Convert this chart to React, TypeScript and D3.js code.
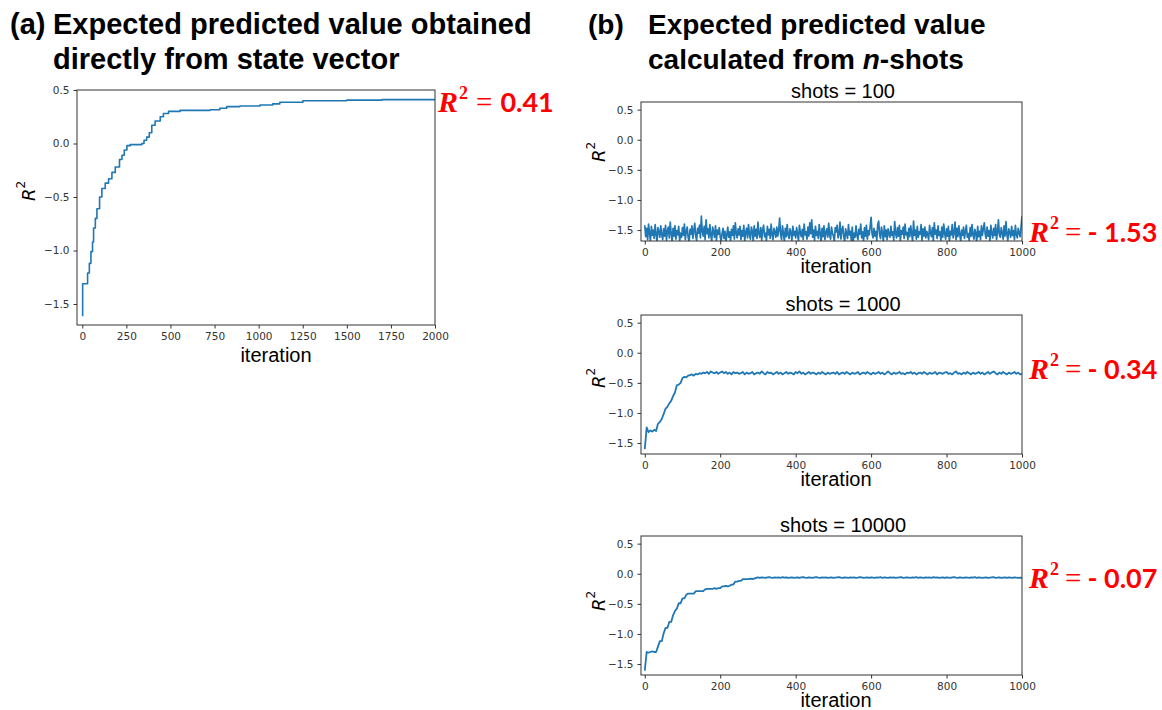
import React, { useEffect, useRef } from 'react';
import * as d3 from 'd3';

// (a) expected value straight from the state vector: step breakpoints
const aIterations = [0, 2, 30, 40, 49, 58, 64, 74, 83, 98, 111, 130, 149, 168, 187, 211, 225, 238, 253, 272, 338, 350, 365, 380, 394, 413, 442, 460, 489, 555, 725, 780, 819, 894, 1008, 1080, 1120, 1251, 1500, 1700, 2000];
const aValues = [-1.61, -1.31, -1.21, -1.12, -1.01, -0.92, -0.79, -0.70, -0.61, -0.50, -0.42, -0.37, -0.33, -0.27, -0.22, -0.15, -0.11, -0.06, -0.02, -0.01, 0.0, 0.03, 0.06, 0.10, 0.17, 0.21, 0.25, 0.28, 0.30, 0.31, 0.315, 0.33, 0.345, 0.35, 0.36, 0.37, 0.385, 0.40, 0.405, 0.41, 0.415];

// (b) shots = 100, one value every 2.5 iterations (0..1000)
const shots100 = [
  -1.42, -1.61, -1.47, -1.66, -1.40, -1.55, -1.68, -1.44, -1.59, -1.50, -1.64, -1.41, -1.57, -1.69, -1.46, -1.53, -1.62, -1.43, -1.58, -1.66,
  -1.48, -1.60, -1.42, -1.67, -1.52, -1.45, -1.63, -1.37, -1.56, -1.69, -1.47, -1.60, -1.43, -1.65, -1.51, -1.58, -1.44, -1.68, -1.55, -1.62,
  -1.46, -1.59, -1.40, -1.66, -1.53, -1.45, -1.62, -1.70, -1.49, -1.57, -1.43, -1.64, -1.51, -1.39, -1.60, -1.67, -1.47, -1.55, -1.42, -1.63,
  -1.27, -1.52, -1.60, -1.44, -1.66, -1.33, -1.56, -1.48, -1.63, -1.41, -1.58, -1.69, -1.45, -1.54, -1.62, -1.43, -1.67, -1.50, -1.57, -1.46,
  -1.61, -1.69, -1.55, -1.47, -1.64, -1.52, -1.70, -1.58, -1.45, -1.62, -1.53, -1.67, -1.49, -1.59, -1.43, -1.65, -1.38, -1.56, -1.63, -1.48,
  -1.58, -1.44, -1.66, -1.51, -1.60, -1.42, -1.68, -1.54, -1.47, -1.63, -1.41, -1.57, -1.65, -1.45, -1.52, -1.69, -1.43, -1.60, -1.49, -1.64,
  -1.37, -1.56, -1.62, -1.46, -1.67, -1.50, -1.42, -1.61, -1.55, -1.68, -1.44, -1.58, -1.49, -1.64, -1.40, -1.57, -1.66, -1.47, -1.53, -1.62,
  -1.45, -1.60, -1.51, -1.30, -1.57, -1.66, -1.43, -1.55, -1.69, -1.47, -1.61, -1.41, -1.58, -1.64, -1.48, -1.54, -1.67, -1.44, -1.59, -1.52,
  -1.63, -1.46, -1.57, -1.68, -1.42, -1.55, -1.61, -1.49, -1.66, -1.40, -1.58, -1.53, -1.65, -1.45, -1.60, -1.38, -1.56, -1.33, -1.62, -1.50,
  -1.67, -1.44, -1.59, -1.52, -1.64, -1.41, -1.56, -1.69, -1.47, -1.61, -1.43, -1.66, -1.54, -1.48, -1.62, -1.39, -1.58, -1.65, -1.45, -1.55,
  -1.60, -1.68, -1.46, -1.53, -1.42, -1.63, -1.57, -1.37, -1.65, -1.50, -1.44, -1.61, -1.69, -1.48, -1.56, -1.64, -1.41, -1.58, -1.52, -1.67,
  -1.45, -1.70, -1.55, -1.62, -1.43, -1.59, -1.66, -1.49, -1.57, -1.40, -1.63, -1.53, -1.68, -1.46, -1.60, -1.42, -1.65, -1.51, -1.58, -1.44,
  -1.29, -1.56, -1.63, -1.47, -1.60, -1.52, -1.67, -1.41, -1.35, -1.58, -1.64, -1.45, -1.55, -1.69, -1.43, -1.61, -1.50, -1.66, -1.48, -1.57,
  -1.62, -1.44, -1.59, -1.53, -1.67, -1.36, -1.56, -1.63, -1.46, -1.60, -1.42, -1.68, -1.51, -1.57, -1.45, -1.64, -1.40, -1.58, -1.54, -1.66,
  -1.47, -1.61, -1.43, -1.56, -1.69, -1.35, -1.59, -1.50, -1.65, -1.44, -1.62, -1.53, -1.57, -1.41, -1.67, -1.48, -1.60, -1.45, -1.63, -1.52,
  -1.58, -1.66, -1.42, -1.55, -1.61, -1.46, -1.68, -1.38, -1.57, -1.50, -1.64, -1.43, -1.59, -1.53, -1.67, -1.45, -1.62, -1.40, -1.56, -1.65,
  -1.48, -1.60, -1.44, -1.69, -1.52, -1.58, -1.41, -1.63, -1.55, -1.37, -1.66, -1.47, -1.61, -1.43, -1.57, -1.68, -1.50, -1.59, -1.45, -1.64,
  -1.53, -1.42, -1.62, -1.56, -1.67, -1.46, -1.60, -1.41, -1.58, -1.65, -1.49, -1.55, -1.70, -1.44, -1.61, -1.52, -1.66, -1.43, -1.59, -1.48,
  -1.38, -1.57, -1.64, -1.45, -1.60, -1.51, -1.68, -1.42, -1.56, -1.63, -1.47, -1.59, -1.41, -1.66, -1.53, -1.33, -1.58, -1.62, -1.46, -1.55,
  -1.65, -1.43, -1.60, -1.36, -1.57, -1.67, -1.48, -1.54, -1.62, -1.44, -1.59, -1.51, -1.66, -1.42, -1.58, -1.63, -1.47, -1.55, -1.61, -1.45,
  -1.27,
];

// shots = 1000 and 10000, one value every 5 iterations (0..1000)
const shots1000 = [
  -1.60, -1.24, -1.32, -1.29, -1.31, -1.28, -1.30, -1.18, -1.15, -1.10, -1.02, -0.93, -0.90, -0.84, -0.80, -0.72, -0.66, -0.54, -0.53, -0.50,
  -0.42, -0.40, -0.41, -0.38, -0.37, -0.36, -0.38, -0.35, -0.36, -0.34, -0.35, -0.33, -0.34, -0.32, -0.35, -0.31, -0.33, -0.34, -0.32, -0.35,
  -0.33, -0.31, -0.34, -0.32, -0.35, -0.33, -0.36, -0.32, -0.34, -0.33, -0.35, -0.34, -0.32, -0.36, -0.33, -0.35, -0.34, -0.32, -0.36, -0.34,
  -0.33, -0.35, -0.31, -0.34, -0.36, -0.32, -0.34, -0.33, -0.36, -0.34, -0.32, -0.35, -0.33, -0.36, -0.34, -0.32, -0.35, -0.33, -0.34, -0.36,
  -0.32, -0.34, -0.31, -0.35, -0.33, -0.36, -0.34, -0.32, -0.35, -0.33, -0.34, -0.36, -0.33, -0.35, -0.32, -0.34, -0.36, -0.33, -0.35, -0.34,
  -0.33, -0.35, -0.32, -0.36, -0.34, -0.33, -0.35, -0.32, -0.34, -0.36, -0.33, -0.35, -0.34, -0.32, -0.36, -0.34, -0.33, -0.35, -0.32, -0.34,
  -0.36, -0.33, -0.35, -0.34, -0.32, -0.35, -0.33, -0.36, -0.34, -0.31, -0.34, -0.36, -0.33, -0.35, -0.34, -0.32, -0.35, -0.34, -0.36, -0.33,
  -0.34, -0.32, -0.35, -0.33, -0.36, -0.34, -0.33, -0.35, -0.32, -0.34, -0.36, -0.33, -0.35, -0.34, -0.32, -0.36, -0.33, -0.34, -0.35, -0.33,
  -0.32, -0.35, -0.34, -0.36, -0.33, -0.31, -0.35, -0.34, -0.36, -0.33, -0.35, -0.32, -0.34, -0.36, -0.33, -0.35, -0.34, -0.32, -0.35, -0.33,
  -0.36, -0.34, -0.32, -0.35, -0.33, -0.31, -0.34, -0.36, -0.33, -0.35, -0.32, -0.34, -0.36, -0.33, -0.35, -0.34, -0.32, -0.35, -0.33, -0.36,
  -0.35,
];

const shots10000 = [
  -1.61, -1.30, -1.31, -1.30, -1.29, -1.30, -1.30, -1.21, -1.12, -1.12, -0.99, -0.90, -0.90, -0.80, -0.80, -0.69, -0.62, -0.58, -0.49, -0.49,
  -0.41, -0.41, -0.35, -0.33, -0.33, -0.33, -0.33, -0.29, -0.29, -0.29, -0.29, -0.29, -0.26, -0.25, -0.25, -0.25, -0.25, -0.24, -0.25, -0.24,
  -0.24, -0.21, -0.21, -0.20, -0.21, -0.20, -0.18, -0.18, -0.13, -0.13, -0.12, -0.12, -0.09, -0.09, -0.09, -0.09, -0.08, -0.09, -0.08, -0.07,
  -0.06, -0.07, -0.06, -0.065, -0.07, -0.06, -0.055, -0.065, -0.07, -0.06, -0.065, -0.06, -0.07, -0.055, -0.065, -0.06, -0.07, -0.065, -0.06, -0.07,
  -0.065, -0.06, -0.07, -0.06, -0.055, -0.065, -0.07, -0.06, -0.065, -0.07, -0.06, -0.055, -0.065, -0.07, -0.06, -0.065, -0.06, -0.07, -0.065, -0.06,
  -0.07, -0.065, -0.06, -0.055, -0.065, -0.07, -0.06, -0.065, -0.07, -0.06, -0.065, -0.06, -0.07, -0.065, -0.055, -0.06, -0.07, -0.065, -0.06, -0.07,
  -0.06, -0.065, -0.07, -0.06, -0.065, -0.055, -0.07, -0.06, -0.065, -0.07, -0.06, -0.065, -0.06, -0.07, -0.065, -0.06, -0.055, -0.07, -0.065, -0.06,
  -0.065, -0.07, -0.06, -0.065, -0.055, -0.07, -0.06, -0.065, -0.07, -0.06, -0.065, -0.06, -0.07, -0.055, -0.065, -0.06, -0.07, -0.065, -0.06, -0.07,
  -0.06, -0.065, -0.07, -0.06, -0.055, -0.065, -0.07, -0.06, -0.065, -0.07, -0.06, -0.065, -0.07, -0.06, -0.065, -0.055, -0.07, -0.06, -0.065, -0.07,
  -0.065, -0.06, -0.07, -0.065, -0.06, -0.055, -0.07, -0.065, -0.06, -0.07, -0.065, -0.06, -0.07, -0.06, -0.065, -0.07, -0.06, -0.065, -0.07, -0.065,
  -0.07,
];

const shotLabels = ['shots = 100', 'shots = 1000', 'shots = 10000'];
const shotScores = ['- 1.53', '- 0.34', '- 0.07'];
const shotSteps = [2.5, 5, 5];
const aTicksX = [0, 250, 500, 750, 1000, 1250, 1500, 1750, 2000];
const bTicksX = [0, 200, 400, 600, 800, 1000];
const ticksY = [-1.5, -1.0, -0.5, 0.0, 0.5];

const BLUE = '#1f77b4';
const INK = '#333';
const SANS = '"Liberation Sans", Arial, sans-serif';

const fmtY = (d: number) => (d < 0 ? '\u2212' + Math.abs(d).toFixed(1) : d.toFixed(1));

const App = () => {
  const ref = useRef<SVGSVGElement>(null);

  useEffect(() => {
    const svg = d3.select(ref.current);
    svg.selectAll('*').remove();

    // one matplotlib-like axes box
    const drawPlot = (cfg: any) => {
      const { id, left, top, width, height, xDomain, yDomain, xTicks, xs, ys, curve, lw } = cfg;
      const x = d3.scaleLinear().domain(xDomain).range([left, left + width]);
      const y = d3.scaleLinear().domain(yDomain).range([top + height, top]);

      svg.append('clipPath').attr('id', id)
        .append('rect').attr('x', left).attr('y', top).attr('width', width).attr('height', height);

      const line = d3.line<number>()
        .x((_, i) => x(xs[i]))
        .y(d => y(d))
        .curve(curve);

      svg.append('path')
        .datum(ys)
        .attr('clip-path', `url(#${id})`)
        .attr('fill', 'none')
        .attr('stroke', BLUE)
        .attr('stroke-width', lw)
        .attr('stroke-linejoin', 'round')
        .attr('d', line);

      const xAxis = svg.append('g')
        .attr('transform', `translate(0,${top + height})`)
        .call(d3.axisBottom(x).tickValues(xTicks).tickSize(3.5).tickPadding(4).tickSizeOuter(0).tickFormat(d3.format('d')));
      const yAxis = svg.append('g')
        .attr('transform', `translate(${left},0)`)
        .call(d3.axisLeft(y).tickValues(ticksY).tickSize(3.5).tickPadding(4).tickSizeOuter(0).tickFormat(fmtY as any));
      [xAxis, yAxis].forEach(ax => {
        ax.select('.domain').remove();
        ax.selectAll('line').attr('stroke', INK);
        ax.selectAll('text').attr('fill', INK).style('font-family', '"DejaVu Sans", sans-serif').style('font-size', '10.5px');
      });

      svg.append('rect')
        .attr('x', left).attr('y', top).attr('width', width).attr('height', height)
        .attr('fill', 'none').attr('stroke', INK).attr('stroke-width', 1);
    };

    const xLabel = (cx: number, cy: number) => {
      svg.append('text')
        .attr('x', cx).attr('y', cy)
        .attr('text-anchor', 'middle').attr('dominant-baseline', 'central')
        .style('font-family', SANS).style('font-size', '20px')
        .text('iteration');
    };

    const yLabel = (cx: number, cy: number) => {
      const t = svg.append('text')
        .attr('transform', `translate(${cx},${cy}) rotate(-90)`)
        .attr('text-anchor', 'middle').attr('dominant-baseline', 'central')
        .style('font-family', '"DejaVu Sans", sans-serif').style('font-size', '18px');
      t.append('tspan').style('font-style', 'italic').text('R');
      t.append('tspan').attr('dy', -7).style('font-size', '12px').text('2');
    };

    const score = (x0: number, base: number, val: string, gap: number) => {
      const t = svg.append('text').attr('x', x0).attr('y', base).attr('fill', '#ff0000');
      t.append('tspan').style('font-family', '"Liberation Serif", serif').style('font-style', 'italic')
        .style('font-weight', 'bold').style('font-size', '30px').text('R');
      t.append('tspan').attr('dy', -13).attr('dx', 1).style('font-family', '"Liberation Serif", serif')
        .style('font-weight', 'bold').style('font-size', '18px').text('2');
      t.append('tspan').attr('dy', 13).attr('dx', gap).style('font-family', '"Liberation Serif", serif')
        .style('font-size', '29px').text('=');
      t.append('tspan').attr('dx', gap).style('font-family', 'Lato, sans-serif')
        .style('font-weight', 'bold').style('font-size', '27px').text(val);
    };

    // headings
    const head = svg.append('g').style('font-family', SANS).style('font-weight', 'bold');
    const headA = head.append('g').style('font-size', '29px');
    headA.append('text').attr('x', 10).attr('y', 34).text('(a)');
    headA.append('text').attr('x', 53).attr('y', 34).text('Expected predicted value obtained');
    headA.append('text').attr('x', 53).attr('y', 69).text('directly from state vector');
    const headB = head.append('g').style('font-size', '28px');
    headB.append('text').attr('x', 588).attr('y', 34).text('(b)');
    headB.append('text').attr('x', 648).attr('y', 34).text('Expected predicted value');
    const l2 = headB.append('text').attr('x', 648).attr('y', 69);
    l2.append('tspan').text('calculated from ');
    l2.append('tspan').style('font-style', 'italic').text('n');
    l2.append('tspan').text('-shots');

    // (a)
    drawPlot({
      id: 'clipA', left: 77, top: 90, width: 358, height: 235,
      xDomain: [-30, 2000], yDomain: [-1.696, 0.5], xTicks: aTicksX,
      xs: aIterations, ys: aValues, curve: d3.curveStepAfter, lw: 1.6,
    });
    xLabel(276, 355);
    yLabel(28, 191);
    score(438, 112, '0.41', 8);

    // (b)
    const series = [shots100, shots1000, shots10000];
    const tops = [102, 315, 536];
    const yLab = [152, 378, 601];
    const scoreBase = [242, 379, 588];
    series.forEach((vals, k) => {
      const top = tops[k];
      const iters = vals.map((_, i) => i * shotSteps[k]);
      drawPlot({
        id: `clipB${k}`, left: 641, top, width: 381, height: 139,
        xDomain: [-10, 1000], yDomain: [-1.682, 0.627], xTicks: bTicksX,
        xs: iters, ys: vals, curve: d3.curveLinear, lw: k === 0 ? 1.7 : 1.8,
      });
      svg.append('text')
        .attr('x', 843).attr('y', top - 4)
        .attr('text-anchor', 'middle')
        .style('font-family', SANS).style('font-size', '20px')
        .text(shotLabels[k]);
      xLabel(836, top + 164);
      yLabel(598, yLab[k]);
      score(1029, scoreBase[k], shotScores[k], 6);
    });
  }, []);

  return (
    <svg ref={ref} width={1162} height={710}
      style={{ position: 'absolute', left: 0, top: 0, background: '#fff' }} />
  );
};

export default App;
